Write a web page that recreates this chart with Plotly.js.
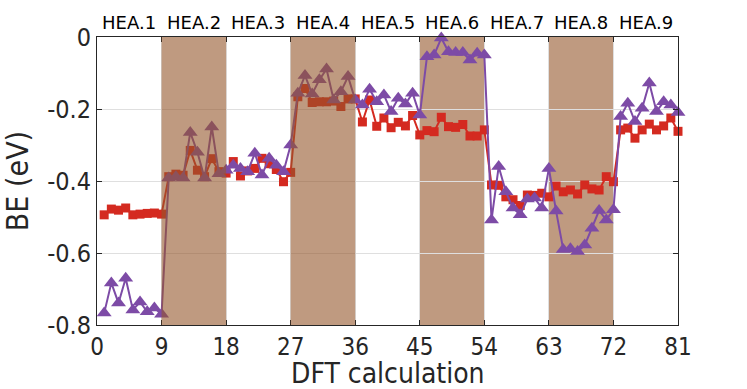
<!DOCTYPE html>
<html>
<head>
<meta charset="utf-8">
<script src="https://cdn.plot.ly/plotly-3.0.1.min.js"></script>
<style>
html, body { margin: 0; padding: 0; background: #fff; }
#chart { width: 747px; height: 389px; }
</style>
</head>
<body>
<div id="chart"></div>
<script>
// DFT calculation index, 1..81
const calcIndex = Array.from({length: 81}, (_, i) => i + 1)

const beSquare = [
  -0.494, -0.478, -0.481, -0.475, -0.494, -0.492, -0.490, -0.489, -0.492,
  -0.388, -0.381, -0.384, -0.315, -0.370, -0.388, -0.338, -0.374, -0.378,
  -0.346, -0.386, -0.372, -0.365, -0.337, -0.352, -0.368, -0.402, -0.376,
  -0.166, -0.143, -0.182, -0.180, -0.180, -0.178, -0.193, -0.172, -0.172,
  -0.236, -0.175, -0.248, -0.225, -0.252, -0.237, -0.247, -0.218, -0.272,
  -0.260, -0.263, -0.223, -0.249, -0.251, -0.243, -0.275, -0.275, -0.258,
  -0.411, -0.412, -0.444, -0.452, -0.468, -0.439, -0.440, -0.434, -0.444,
  -0.414, -0.430, -0.425, -0.436, -0.411, -0.422, -0.425, -0.388, -0.402,
  -0.258, -0.253, -0.281, -0.258, -0.242, -0.258, -0.247, -0.225, -0.262
]

const beTriangle = [
  -0.767, -0.683, -0.739, -0.670, -0.758, -0.736, -0.763, -0.753, -0.770,
  -0.392, -0.388, -0.392, -0.265, -0.320, -0.392, -0.250, -0.380, -0.370,
  -0.356, -0.365, -0.374, -0.323, -0.383, -0.337, -0.356, -0.374, -0.300,
  -0.156, -0.107, -0.158, -0.119, -0.089, -0.175, -0.152, -0.110, -0.175,
  -0.189, -0.145, -0.180, -0.161, -0.207, -0.170, -0.186, -0.156, -0.217,
  -0.055, -0.050, -0.003, -0.041, -0.043, -0.043, -0.064, -0.045, -0.050,
  -0.508, -0.360, -0.430, -0.475, -0.494, -0.450, -0.447, -0.475, -0.365,
  -0.483, -0.590, -0.588, -0.596, -0.578, -0.531, -0.482, -0.508, -0.480,
  -0.221, -0.184, -0.235, -0.198, -0.128, -0.207, -0.180, -0.189, -0.210
]

const groups = ['HEA.1', 'HEA.2', 'HEA.3', 'HEA.4', 'HEA.5', 'HEA.6', 'HEA.7', 'HEA.8', 'HEA.9']
const shadedGroups = [1, 3, 5, 7]   // HEA.2, HEA.4, HEA.6, HEA.8
const groupSize = 9

const xTicks = [0, 9, 18, 27, 36, 45, 54, 63, 72, 81]
const yTicks = [0, -0.2, -0.4, -0.6, -0.8]
const yTickText = ['0', '-0.2', '-0.4', '-0.6', '-0.8']

const axisColor = '#262626'
const condensed = '"DejaVu Sans Condensed", "DejaVu Sans", sans-serif'

const data = [
  {
    x: calcIndex, y: beSquare,
    type: 'scatter', mode: 'lines+markers',
    line: {color: '#d42a20', width: 2},
    marker: {symbol: 'square', size: 9, color: '#d42a20'},
    cliponaxis: false
  },
  {
    x: calcIndex, y: beTriangle,
    type: 'scatter', mode: 'lines+markers',
    line: {color: '#7d4ba6', width: 2},
    marker: {symbol: 'triangle-up', size: 13, color: '#7d4ba6'},
    cliponaxis: false
  }
]

// the first two bands sit over the lines, the last two under them
const shapes = shadedGroups.map((g, k) => ({
  type: 'rect', xref: 'x', yref: 'paper',
  x0: g * groupSize, x1: (g + 1) * groupSize, y0: 0, y1: 1,
  fillcolor: 'rgb(148,87,43)', opacity: 0.6,
  line: {width: 0},
  layer: k < 2 ? 'above' : 'below'
}))

const annotations = groups.map((name, g) => ({
  text: name, xref: 'x', yref: 'paper',
  x: g * groupSize + groupSize / 2, y: 1,
  xanchor: 'center', yanchor: 'bottom', yshift: 2,
  showarrow: false,
  font: {family: 'DejaVu Sans', size: 18, color: '#000'}
}))

// x axis title as an annotation so it can sit a little lower
annotations.push({
  text: 'DFT calculation', xref: 'paper', yref: 'paper',
  x: 0.5, y: 0, xanchor: 'center', yanchor: 'bottom', yshift: -66,
  borderpad: 0,
  showarrow: false,
  font: {family: condensed, size: 28, color: axisColor}
})

const layout = {
  width: 747, height: 389,
  margin: {l: 97, r: 69, t: 37, b: 64},
  paper_bgcolor: '#fff', plot_bgcolor: '#fff',
  showlegend: false,
  hovermode: false,
  font: {family: condensed, color: axisColor},
  xaxis: {
    range: [0, 81],
    tickvals: xTicks,
    ticks: 'inside', ticklen: 5, tickcolor: axisColor,
    showline: true, linecolor: axisColor, linewidth: 1, mirror: 'ticks',
    showgrid: true, gridcolor: '#dfdfdf', gridwidth: 1,
    zeroline: false,
    tickfont: {family: condensed, size: 24, color: axisColor},
    automargin: false
  },
  yaxis: {
    range: [-0.8, 0],
    tickvals: yTicks, ticktext: yTickText,
    ticks: 'inside', ticklen: 5, tickcolor: axisColor,
    showline: true, linecolor: axisColor, linewidth: 1, mirror: 'ticks',
    showgrid: true, gridcolor: '#dfdfdf', gridwidth: 1,
    zeroline: false,
    tickfont: {family: condensed, size: 25, color: axisColor},
    title: {text: 'BE (eV)', font: {family: condensed, size: 30, color: axisColor}},
    automargin: false
  },
  shapes: shapes,
  annotations: annotations
}

Plotly.newPlot('chart', data, layout, {displayModeBar: false, staticPlot: true})
</script>
</body>
</html>
